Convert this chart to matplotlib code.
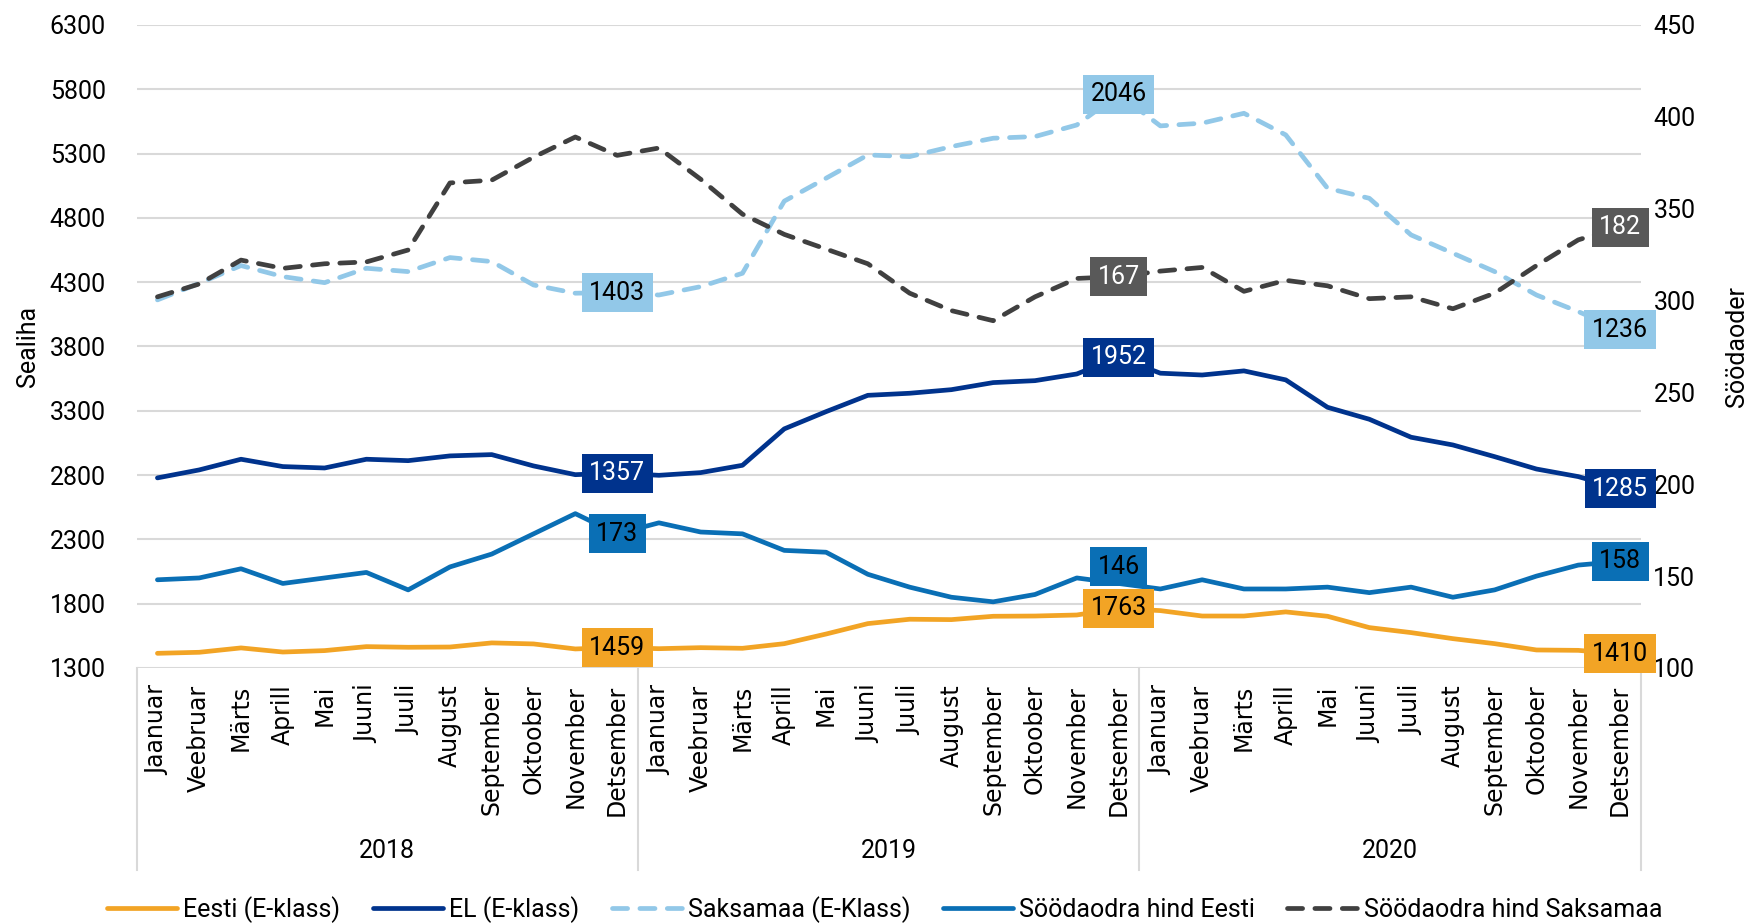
import numpy as np
import matplotlib
matplotlib.use("Agg")
import matplotlib.pyplot as plt
from matplotlib.transforms import blended_transform_factory

plt.rcParams["font.family"] = ["Roboto", "DejaVu Sans"]

# Kuud ja aastad
months = ["Jaanuar", "Veebruar", "Märts", "Aprill", "Mai", "Juuni", "Juuli",
          "August", "September", "Oktoober", "November", "Detsember"]
years = ["2018", "2019", "2020"]

# Sealiha (vasak telg, virnastatud jooned)
eesti = [1414, 1422, 1456, 1424, 1435, 1466, 1461, 1463, 1495, 1487, 1448, 1459,
         1450, 1458, 1453, 1489, 1564, 1645, 1679, 1676, 1702, 1704, 1712, 1763,
         1746, 1704, 1704, 1736, 1702, 1614, 1575, 1528, 1489, 1440, 1437, 1410]
el = [1364, 1418, 1467, 1442, 1420, 1457, 1451, 1486, 1464, 1384, 1355, 1357,
      1348, 1361, 1423, 1670, 1729, 1775, 1757, 1788, 1817, 1830, 1874, 1952,
      1846, 1874, 1906, 1804, 1625, 1620, 1519, 1506, 1454, 1407, 1351, 1285]
saksamaa = [1384, 1451, 1506, 1477, 1441, 1485, 1470, 1542, 1501, 1407, 1411, 1403,
            1402, 1446, 1493, 1771, 1815, 1869, 1840, 1890, 1900, 1898, 1936, 2046,
            1923, 1958, 2003, 1905, 1703, 1718, 1573, 1491, 1439, 1353, 1283, 1236]

# Söödaoder (parem telg, virnastatud jooned)
oder_eesti = [148, 149, 154, 146, 149, 152, 142.5, 155, 162, 173, 184, 173,
              179, 174, 173, 164, 163, 151, 144, 138.5, 136, 140, 149, 146,
              143, 148, 143, 143, 144, 141, 144, 138.5, 142.5, 150, 156, 158]
oder_saksamaa = [154, 160, 168, 171.5, 171, 169, 185, 209, 203.5, 205, 205, 206,
                 204, 192, 174, 172, 165, 169, 160, 156, 153, 162, 163, 167,
                 173, 170, 162, 168, 164, 160, 158, 157, 161.5, 169, 177, 182]

c_orange = "#F2A425"
c_navy = "#00338D"
c_light = "#92C8E8"
c_blue = "#0A6FB5"
c_dark = "#404040"
c_dark_box = "#595959"
c_grid = "#D9D9D9"

x = np.arange(len(eesti))
s1 = np.array(eesti)
s2 = s1 + np.array(el)
s3 = s2 + np.array(saksamaa)
f1 = np.array(oder_eesti)
f2 = f1 + np.array(oder_saksamaa)

fig = plt.figure(figsize=(17.55, 9.23), dpi=100)
ax = fig.add_axes([0.0778, 0.2763, 0.8572, 0.6967])
ax2 = ax.twinx()

lw = 3.4
dash = (0, (3.2, 2.6))
l1, = ax.plot(x, s1, color=c_orange, lw=lw, solid_joinstyle="round", solid_capstyle="round")
l2, = ax.plot(x, s2, color=c_navy, lw=lw, solid_joinstyle="round", solid_capstyle="round")
l3, = ax.plot(x, s3, color=c_light, lw=lw, linestyle=dash, dash_capstyle="round")
l4, = ax2.plot(x, f1, color=c_blue, lw=lw, solid_joinstyle="round", solid_capstyle="round")
l5, = ax2.plot(x, f2, color=c_dark, lw=lw, linestyle=dash, dash_capstyle="round")

ax.set_xlim(-0.5, len(x) - 0.5)
ax.set_ylim(1300, 6300)
ax.set_yticks(np.arange(1300, 6301, 500))
ax2.set_ylim(100, 450)
ax2.set_yticks(np.arange(100, 451, 50))

ax.grid(axis="y", color=c_grid, lw=1.5)
ax.set_axisbelow(True)
for a in (ax, ax2):
    for sp in a.spines.values():
        sp.set_visible(False)

ax.tick_params(axis="y", length=0, pad=22, labelsize=18)
ax2.tick_params(axis="y", length=0, pad=9, labelsize=18)

ax.set_xticks(x)
ax.set_xticklabels(months * len(years), rotation=90, fontsize=17, family="DejaVu Sans")
ax.tick_params(axis="x", length=0, pad=12)

ax.set_ylabel("Sealiha", fontsize=18)
ax.yaxis.set_label_coords(-0.064, 0.5)
ax2.set_ylabel("Söödaoder", fontsize=18)
ax2.yaxis.set_label_coords(1.056, 0.5)

# aastate eraldajad ja sildid
tr = blended_transform_factory(ax.transData, ax.transAxes)
for b in np.arange(-0.5, len(x), 12):
    ax.plot([b, b], [0, -0.314], transform=tr, color=c_grid, lw=1.5, clip_on=False)
for i, yr in enumerate(years):
    ax.text(i * 12 + 5.5, -0.285, yr, transform=tr, ha="center", va="center", fontsize=18)

# andmesildid
def tag(axis, xi, yi, s, fc, tc, dy=0):
    ax2.annotate(s, (xi, yi), xycoords=axis.transData, xytext=(0, dy),
                 textcoords="offset points", ha="center", va="center",
                 fontsize=18, color=tc, zorder=10, annotation_clip=False,
                 bbox=dict(boxstyle="square,pad=0.3", fc=fc, ec="none"))

for i in (11, 23, 35):
    tag(ax, x[i], s1[i], f"{eesti[i]:.0f}", c_orange, "black")
    tag(ax, x[i], s2[i], f"{el[i]:.0f}", c_navy, "white")
    tag(ax, x[i], s3[i], f"{saksamaa[i]:.0f}", c_light, "black")
    tag(ax2, x[i], f1[i], f"{oder_eesti[i]:.0f}", c_blue, "black", dy=12 if i == 23 else 0)
    if i != 11:
        tag(ax2, x[i], f2[i], f"{oder_saksamaa[i]:.0f}", c_dark_box, "white")

fig.legend([l1, l2, l3, l4, l5],
           ["Eesti (E-klass)", "EL (E-klass)", "Saksamaa (E-Klass)",
            "Söödaodra hind Eesti", "Söödaodra hind Saksamaa"],
           loc="center", bbox_to_anchor=(0.504, 0.015), ncol=5, frameon=False,
           fontsize=18, handlelength=2.8, handletextpad=0.25, columnspacing=1.3)

fig.savefig("out.png", dpi=100)
